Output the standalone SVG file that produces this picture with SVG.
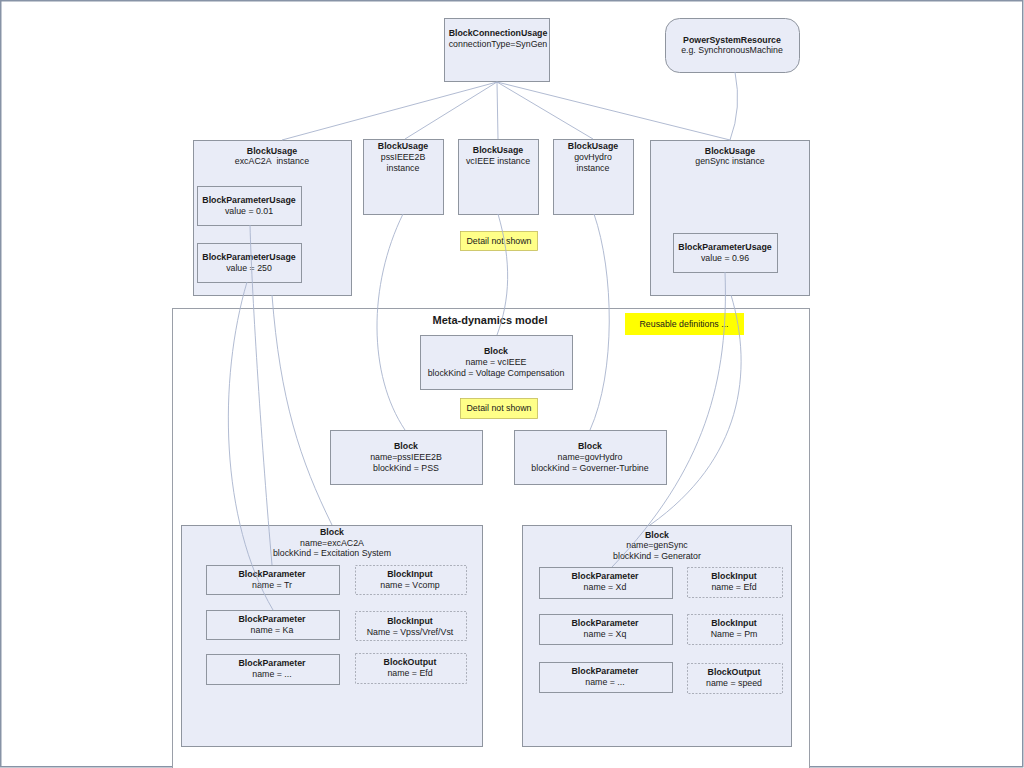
<svg xmlns="http://www.w3.org/2000/svg" width="1024" height="768" viewBox="0 0 1024 768">
<style>
text{font-family:"Liberation Sans",Arial,sans-serif;font-size:8.8px;fill:#1a1a1a;text-anchor:middle}
.b{font-weight:bold}
.t{font-weight:bold;font-size:11px}
.box{fill:#e9ecf7;stroke:#8f959f;stroke-width:1}
.dash{fill:#e9ecf7;stroke:#9aa0aa;stroke-width:0.8;stroke-dasharray:2,1.5}
.note{fill:#ffff88;stroke:#c4bc5a;stroke-width:0.8}
.hl{fill:#ffff00}
.frame{fill:#ffffff;stroke:#9a9fa8;stroke-width:1}
.c{fill:none;stroke:#a8b3cd;stroke-width:0.9}
</style>
<rect x="0" y="0" width="1024" height="768" fill="#ffffff"/>
<rect x="0.75" y="0.75" width="1022" height="766" fill="none" stroke="#8793a6" stroke-width="1.5"/>

<g id="meta-model">
<rect class="frame" x="172.5" y="308.5" width="637" height="480"/>
<text class="t" x="490" y="324">Meta-dynamics model</text>
</g>

<g id="bcu">
<rect class="box" x="444.5" y="18.5" width="105" height="63"/>
<text class="b" x="498" y="36">BlockConnectionUsage</text>
<text x="498" y="47">connectionType=SynGen</text>
</g>

<g id="psr">
<rect class="box" x="665.5" y="18.5" width="134" height="54" rx="14"/>
<text class="b" x="732" y="43">PowerSystemResource</text>
<text x="732" y="53">e.g. SynchronousMachine</text>
</g>

<g id="bu-exc">
<rect class="box" x="193.5" y="140.5" width="158" height="155"/>
<text class="b" x="272" y="154">BlockUsage</text>
<text x="272" y="164">excAC2A&#160; instance</text>
</g>
<g id="bpu-001">
<rect class="box" x="197.5" y="186.5" width="104" height="39"/>
<text class="b" x="249" y="203">BlockParameterUsage</text>
<text x="249" y="214">value = 0.01</text>
</g>
<g id="bpu-250">
<rect class="box" x="197.5" y="243.5" width="104" height="39"/>
<text class="b" x="249" y="260">BlockParameterUsage</text>
<text x="249" y="271">value = 250</text>
</g>

<g id="bu-pss">
<rect class="box" x="363.5" y="139.5" width="80" height="75"/>
<text class="b" x="403" y="149">BlockUsage</text>
<text x="403" y="160">pssIEEE2B</text>
<text x="403" y="171">instance</text>
</g>
<g id="bu-vc">
<rect class="box" x="458.5" y="139.5" width="80" height="75"/>
<text class="b" x="498" y="153">BlockUsage</text>
<text x="498" y="164">vcIEEE instance</text>
</g>
<g id="bu-gov">
<rect class="box" x="553.5" y="139.5" width="80" height="75"/>
<text class="b" x="593" y="149">BlockUsage</text>
<text x="593" y="160">govHydro</text>
<text x="593" y="171">instance</text>
</g>
<g id="bu-gen">
<rect class="box" x="650.5" y="140.5" width="159" height="155"/>
<text class="b" x="730" y="154">BlockUsage</text>
<text x="730" y="164">genSync instance</text>
</g>
<g id="bpu-096">
<rect class="box" x="673.5" y="233.5" width="104" height="39"/>
<text class="b" x="725" y="250">BlockParameterUsage</text>
<text x="725" y="261">value = 0.96</text>
</g>

<g id="note1">
<rect class="note" x="460.5" y="231.5" width="77" height="19"/>
<text x="499" y="244">Detail not shown</text>
</g>

<g id="note-reuse">
<rect class="hl" x="625" y="313" width="119" height="22"/>
<text x="684" y="327">Reusable definitions ...</text>
</g>

<g id="blk-vc">
<rect class="box" x="420.5" y="335.5" width="152" height="54"/>
<text class="b" x="496" y="354">Block</text>
<text x="496" y="365">name = vcIEEE</text>
<text x="496" y="376">blockKind = Voltage Compensation</text>
</g>

<g id="note2">
<rect class="note" x="460.5" y="398.5" width="77" height="20"/>
<text x="499" y="411">Detail not shown</text>
</g>

<g id="blk-pss">
<rect class="box" x="330.5" y="430.5" width="152" height="54"/>
<text class="b" x="406" y="449">Block</text>
<text x="406" y="460">name=pssIEEE2B</text>
<text x="406" y="471">blockKind = PSS</text>
</g>
<g id="blk-gov">
<rect class="box" x="514.5" y="430.5" width="152" height="54"/>
<text class="b" x="590" y="449">Block</text>
<text x="590" y="460">name=govHydro</text>
<text x="590" y="471">blockKind = Governer-Turbine</text>
</g>

<g id="blk-exc">
<rect class="box" x="181.5" y="525.5" width="301" height="221"/>
<text class="b" x="332" y="535">Block</text>
<text x="332" y="546">name=excAC2A</text>
<text x="332" y="556">blockKind = Excitation System</text>
</g>
<g id="exc-tr">
<rect class="box" x="206.5" y="565.5" width="133" height="29"/>
<text class="b" x="272" y="577">BlockParameter</text>
<text x="272" y="588">name = Tr</text>
</g>
<g id="exc-vcomp">
<rect class="dash" x="355.5" y="565.5" width="111" height="29"/>
<text class="b" x="410" y="577">BlockInput</text>
<text x="410" y="588">name = Vcomp</text>
</g>
<g id="exc-ka">
<rect class="box" x="206.5" y="610.5" width="133" height="29"/>
<text class="b" x="272" y="622">BlockParameter</text>
<text x="272" y="633">name = Ka</text>
</g>
<g id="exc-vpss">
<rect class="dash" x="355.5" y="611.5" width="111" height="29"/>
<text class="b" x="410" y="624">BlockInput</text>
<text x="410" y="635">Name = Vpss/Vref/Vst</text>
</g>
<g id="exc-etc">
<rect class="box" x="206.5" y="654.5" width="133" height="30"/>
<text class="b" x="272" y="666">BlockParameter</text>
<text x="272" y="677">name = ...</text>
</g>
<g id="exc-efd">
<rect class="dash" x="355.5" y="653.5" width="111" height="30"/>
<text class="b" x="410" y="665">BlockOutput</text>
<text x="410" y="676">name = Efd</text>
</g>

<g id="blk-gen">
<rect class="box" x="522.5" y="525.5" width="269" height="221"/>
<text class="b" x="657" y="538">Block</text>
<text x="657" y="548">name=genSync</text>
<text x="657" y="559">blockKind = Generator</text>
</g>
<g id="gen-xd">
<rect class="box" x="539.5" y="567.5" width="133" height="31"/>
<text class="b" x="605" y="579">BlockParameter</text>
<text x="605" y="590">name = Xd</text>
</g>
<g id="gen-efd">
<rect class="dash" x="687.5" y="567.5" width="95" height="30"/>
<text class="b" x="734" y="579">BlockInput</text>
<text x="734" y="590">name = Efd</text>
</g>
<g id="gen-xq">
<rect class="box" x="539.5" y="614.5" width="133" height="30"/>
<text class="b" x="605" y="626">BlockParameter</text>
<text x="605" y="637">name = Xq</text>
</g>
<g id="gen-pm">
<rect class="dash" x="687.5" y="614.5" width="95" height="30"/>
<text class="b" x="734" y="626">BlockInput</text>
<text x="734" y="637">Name = Pm</text>
</g>
<g id="gen-etc">
<rect class="box" x="539.5" y="662.5" width="133" height="30"/>
<text class="b" x="605" y="674">BlockParameter</text>
<text x="605" y="685">name = ...</text>
</g>
<g id="gen-speed">
<rect class="dash" x="687.5" y="663.5" width="95" height="30"/>
<text class="b" x="734" y="675">BlockOutput</text>
<text x="734" y="686">name = speed</text>
</g>

<g id="connectors">
<path class="c" d="M497,82 L282,140"/>
<path class="c" d="M497,82 L405,139"/>
<path class="c" d="M497,82 L498,139"/>
<path class="c" d="M497,82 L593,139"/>
<path class="c" d="M497,82 L730,140"/>
<path class="c" d="M735,72 Q742,108 730,140"/>
<path class="c" d="M403,214 C368,285 368,375 405,430"/>
<path class="c" d="M498,214 C512,262 510,300 497,335"/>
<path class="c" d="M594,214 C614,272 616,372 590,430"/>
<path class="c" d="M725,272 C729,380 705,470 612,567"/>
<path class="c" d="M731,295 C754,372 742,460 650,525"/>
<path class="c" d="M250,225 C252,300 262,450 272,565"/>
<path class="c" d="M247,282 C218,380 220,520 273,610"/>
<path class="c" d="M272,295 C280,400 300,460 332,525"/>
</g>
</svg>
